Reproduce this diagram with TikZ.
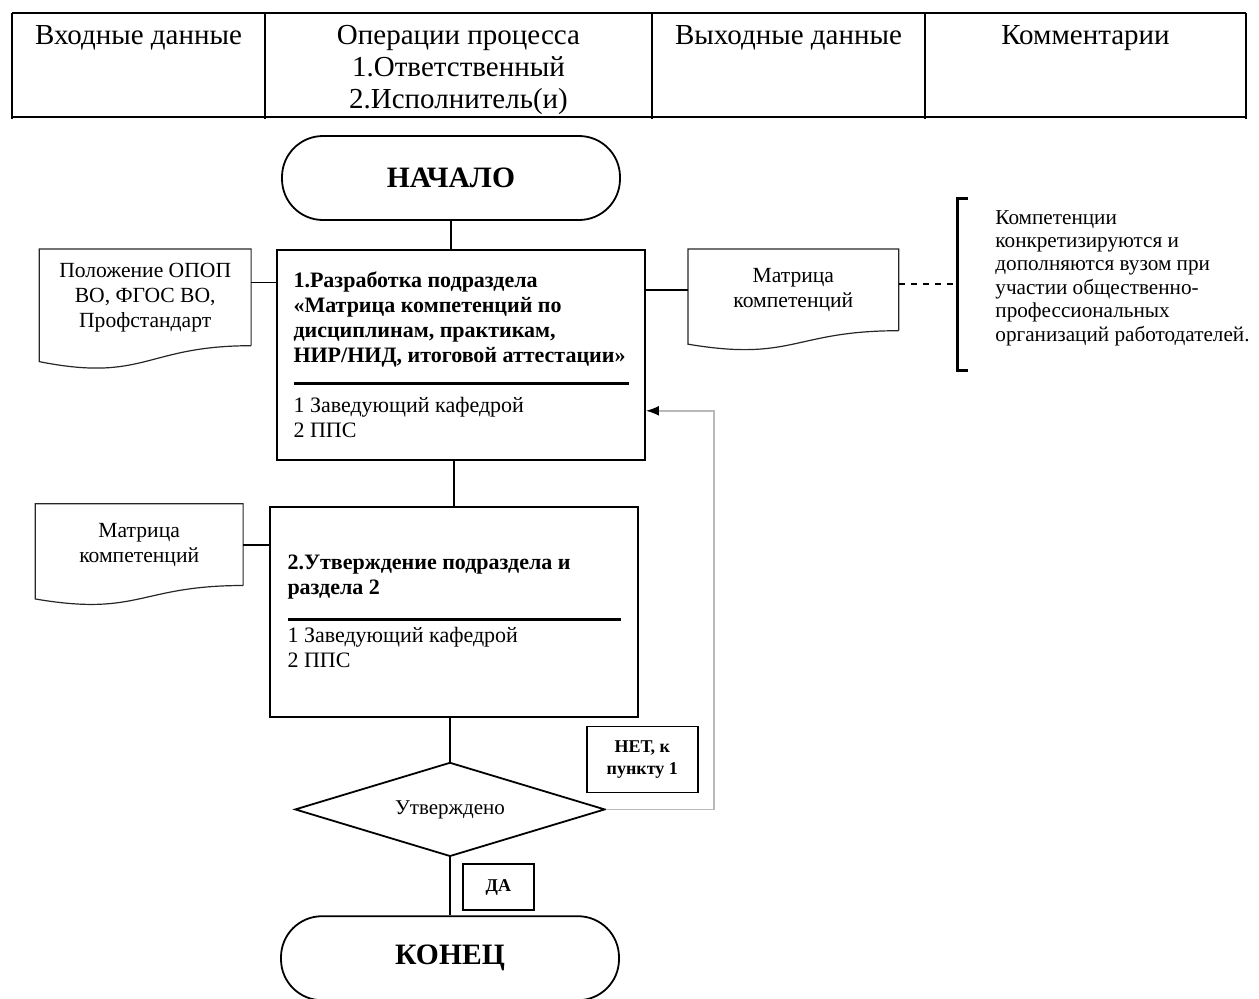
\documentclass[tikz,border=0pt]{standalone}
\usepackage{fontspec}
\setmainfont{Liberation Serif}
\usetikzlibrary{positioning,calc,shapes.geometric,arrows.meta}

\tikzstyle{terminal} = [draw, rectangle, rounded corners=20.5pt, line width=0.9pt,
    minimum width=169pt, minimum height=42pt, font=\fontsize{14.8}{16}\selectfont\bfseries]
\tikzstyle{process} = [draw, rectangle, line width=0.9pt, align=left,
    minimum width=184pt, minimum height=105pt, font=\fontsize{11}{12.5}\selectfont]
\tikzstyle{decision} = [draw, diamond, aspect=3.3, line width=0.9pt, inner sep=0pt,
    minimum width=155pt, minimum height=47pt, font=\fontsize{10.5}{12.5}\selectfont]
\tikzstyle{docu} = [rectangle, align=center, inner sep=0pt,
    minimum width=105pt, minimum height=40.5pt, font=\fontsize{10.8}{12.5}\selectfont]
\tikzstyle{answer} = [draw, rectangle, line width=0.9pt, align=center, inner sep=0pt,
    font=\fontsize{9}{10.8}\selectfont\bfseries]
\tikzstyle{head} = [anchor=north, align=center, inner sep=0pt, font=\fontsize{14.5}{16}\selectfont]
\tikzstyle{remark} = [align=left, inner sep=0pt, font=\fontsize{10.6}{11.7}\selectfont]
\tikzstyle{wire} = [draw, line width=0.9pt]
\tikzstyle{docline} = [draw, line width=0.6pt, black!85]
\tikzstyle{feedback} = [draw, gray!55, line width=0.9pt, -{Latex[black,length=6.5pt,width=5pt]}]

% wavy bottom of a document symbol
\newcommand{\docframe}[1]{%
  \draw[docline] (#1.south east) -- (#1.north east) -- (#1.north west)
    -- ($(#1.south west)!-0.1646!(#1.north west)$)
    .. controls ($(#1.south)!-0.3815!(#1.north)$) and (#1.south) .. (#1.south east);}

\begin{document}
\begin{tikzpicture}[x=0.5pt, y=-0.5pt]
    \useasboundingbox (0,0) rectangle (1259,998);

    % table header
    \draw[line width=1.4pt] (12,13) -- (1246,13);
    \draw[line width=1.4pt] (12,117) -- (1246,117);
    \draw[line width=0.8pt] (12,13) -- (12,119) (265,13) -- (265,119) (652,13) -- (652,119)
        (925,13) -- (925,119) (1246,13) -- (1246,119);
    \node [head] (hin) at (138.5,25) {Входные данные};
    \node [head] (hops) at (458.5,25) {Операции процесса\\1.Ответственный\\2.Исполнитель(и)};
    \node [head] (hout) at (788.5,25) {Выходные данные};
    \node [head] (hnote) at (1085.5,25) {Комментарии};

    % flow
    \node [terminal] (start) at (451,178) {НАЧАЛО};
    \node [process, below=14pt of start, xshift=5pt] (dev) {\textbf{1.Разработка подраздела}\\
        \textbf{«Матрица компетенций по}\\ \textbf{дисциплинам, практикам,}\\
        \textbf{НИР/НИД, итоговой аттестации»}\\ \rule[1.5pt]{167.5pt}{1.5pt}\\
        1 Заведующий кафедрой\\ 2 ППС};
    \node [process, below=22.5pt of dev, xshift=-3.5pt] (app) {\textbf{2.Утверждение подраздела и}\\
        \textbf{раздела 2}\\[-1pt] \rule[-1.5pt]{166.5pt}{1.5pt}\\
        1 Заведующий кафедрой\\ 2 ППС};
    \node [decision, below=22pt of app, xshift=-2pt] (dec) {Утверждено};
    \node [terminal, below=29pt of dec] (finish) {КОНЕЦ};
    \node [answer, minimum width=55.5pt, minimum height=33pt, anchor=south west]
        (no) at ([shift={(-10pt,8pt)}]dec.east) {НЕТ, к\\пункту 1};
    \node [answer, minimum width=35.5pt, minimum height=23pt, below right=3pt and 6pt of dec.south]
        (yes) {ДА};

    % documents
    \node [docu, minimum width=105.5pt, minimum height=48pt, left=12.5pt of dev.north west,
        anchor=north east] (doc1) {Положение ОПОП\\ВО, ФГОС ВО,\\Профстандарт};
    \node [docu, right=21pt of dev.north east, anchor=north west] (doc2) {Матрица\\компетенций};
    \node [docu, minimum width=103.5pt, left=13pt of app.north west, anchor=north east,
        yshift=1pt] (doc3) {Матрица\\компетенций};
    \docframe{doc1}
    \docframe{doc2}
    \docframe{doc3}

    % comment
    \coordinate (note) at (957,284);
    \draw[line width=1.5pt] ([shift={(5.5pt,43pt)}]note) -| ([yshift=-43pt]note) -- ++(5.5pt,0);
    \node [remark, right=19pt of note, yshift=3pt] (remark) {Компетенции\\конкретизируются и\\
        дополняются вузом при\\участии общественно-\\профессиональных\\организаций работодателей.};

    % connectors
    \draw[wire] (start.south) -- (start.south |- dev.north);
    \draw[wire] (app.north |- dev.south) -- (app.north);
    \draw[wire] (dec.north |- app.south) -- (dec.north);
    \draw[wire] (dec.south) -- (finish.north);
    \draw[wire] (doc1.8) -- (doc1.8 -| dev.west);
    \draw[wire] (dev.east |- doc2.west) -- (doc2.west);
    \draw[wire] (doc3.east) -- (doc3.east -| app.west);
    \draw[wire, dashed] (doc2.east |- note) -- (note);
    \coordinate (back) at ([yshift=-28pt]dev.east);
    \draw[feedback] (dec.east) -- ++(54pt,0) |- (back);
\end{tikzpicture}
\end{document}
